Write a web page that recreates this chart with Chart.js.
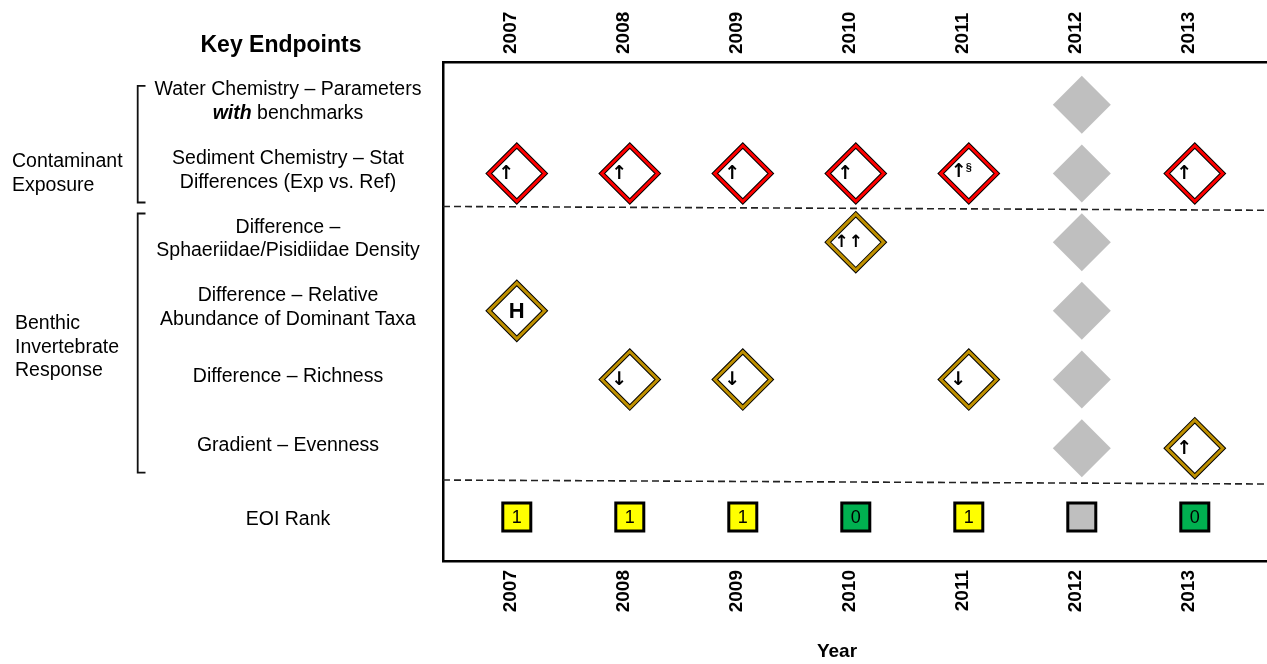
<!DOCTYPE html>
<html><head><meta charset="utf-8">
<script src="https://cdn.jsdelivr.net/npm/chart.js@4"></script>
<style>html,body{margin:0;padding:0;background:#fff;overflow:hidden}canvas{display:block}</style>
</head><body><canvas id="c" width="1267" height="664" style="width:1267px;height:664px"></canvas>
<script>
// ---------------- data ----------------
const years = [2007, 2008, 2009, 2010, 2011, 2012, 2013];
const endpointLabels = [
  ["Water Chemistry – Parameters", "*with* benchmarks"],
  ["Sediment Chemistry – Stat", "Differences (Exp vs. Ref)"],
  ["Difference –", "Sphaeriidae/Pisidiidae Density"],
  ["Difference – Relative", "Abundance of Dominant Taxa"],
  ["Difference – Richness"],
  ["Gradient – Evenness"],
  ["EOI Rank"]
];
const endpointRows = [1, 2, 3, 4, 5, 6, 7];
const groupLabels = [["Contaminant", "Exposure"], ["Benthic", "Invertebrate", "Response"]];
const groupLabelRows = [2, 4.53];
const groupBrackets = [[0.723, 2.422], [2.582, 6.354]];
const dividerRows = [[2.48, 2.535], [6.463, 6.521]];

// Contaminant exposure flags (red)
const exposureYears = [2007, 2008, 2009, 2010, 2011, 2013];
const exposureRows = [2, 2, 2, 2, 2, 2];
const exposureSymbols = ["↑", "↑", "↑", "↑", "↑§", "↑"];
// Benthic response flags (gold)
const responseYears = [2010, 2007, 2008, 2009, 2011, 2013];
const responseRows = [3, 4, 5, 5, 5, 6];
const responseSymbols = ["↑↑", "H", "↓", "↓", "↓", "↑"];
// Not assessed (grey)
const naYears = [2012, 2012, 2012, 2012, 2012, 2012];
const naRows = [1, 2, 3, 4, 5, 6];
// EOI rank per year (null = not ranked)
const eoiRank = [1, 1, 1, 0, 1, null, 0];
const eoiRow = 7;

// ---------------- styles ----------------
const F = "'Liberation Sans', Arial, sans-serif";
const AF = "'DejaVu Sans', sans-serif";
const X_MIN = 2006.347, X_MAX = 2013.639;
const Y_MIN = 0.3765, Y_MAX = 7.642;
const RED = '#FF0000', GOLD = '#BF9000', GREY = '#BFBFBF';
const rankColor = r => r === null ? GREY : (r === 0 ? '#00B050' : '#FFFF00');
const pts = (xs, ys) => xs.map((v, i) => ({x: v, y: ys[i]}));

function flagLayer(data, color, outer, order) {
  return {
    type: 'scatter', data, order,
    pointStyle: 'rectRot', pointRadius: 28, pointHoverRadius: 28,
    pointBackgroundColor: outer ? '#FFFFFF' : 'rgba(0,0,0,0)',
    pointBorderColor: outer ? '#000000' : color,
    pointBorderWidth: outer ? 5 : 3, pointHoverBorderWidth: outer ? 5 : 3
  };
}
function divider(r) {
  return {
    type: 'line', order: 20,
    data: [{x: X_MIN, y: r[0]}, {x: X_MAX, y: r[1]}],
    borderColor: '#222222', borderWidth: 1.6, borderDash: [7, 4],
    pointRadius: 0, fill: false
  };
}

const exposurePts = pts(exposureYears, exposureRows);
const responsePts = pts(responseYears, responseRows);

function drawSymbol(ctx, s, cx, cy) {
  ctx.fillStyle = '#000';
  ctx.textBaseline = 'middle';
  ctx.textAlign = 'center';
  if (s === 'H') {
    ctx.font = 'bold 22px ' + F;
    ctx.fillText('H', cx, cy + 1);
  } else if (s === '↑↑') {
    ctx.font = 'bold 17px ' + AF;
    ctx.fillText('↑↑', cx - 7, cy);
  } else if (s === '↑§') {
    ctx.font = 'bold 19px ' + AF;
    ctx.fillText('↑', cx - 10, cy - 1);
    ctx.font = 'bold 11px ' + F;
    ctx.fillText('§', cx, cy - 6);
  } else {
    ctx.font = 'bold 19px ' + AF;
    ctx.fillText(s, cx - 10.5, cy + 1);
  }
}

function drawRich(ctx, line, cx, cy, size) {
  const segs = line.split('*').map((t, i) => ({t, bi: i % 2 === 1})).filter(s => s.t.length);
  let total = 0;
  segs.forEach(s => { ctx.font = (s.bi ? 'italic bold ' : '') + size + 'px ' + F; s.w = ctx.measureText(s.t).width; total += s.w; });
  let xx = cx - total / 2;
  ctx.textAlign = 'left';
  segs.forEach(s => { ctx.font = (s.bi ? 'italic bold ' : '') + size + 'px ' + F; ctx.fillText(s.t, xx, cy); xx += s.w; });
}

const annotate = {
  id: 'annotate',
  afterDatasetsDraw(chart) {
    const {ctx, scales: {x, y}} = chart;
    ctx.save();
    exposurePts.forEach((p, i) => drawSymbol(ctx, exposureSymbols[i], x.getPixelForValue(p.x), y.getPixelForValue(p.y)));
    responsePts.forEach((p, i) => drawSymbol(ctx, responseSymbols[i], x.getPixelForValue(p.x), y.getPixelForValue(p.y)));
    ctx.font = '18px ' + F;
    ctx.textAlign = 'center'; ctx.textBaseline = 'middle'; ctx.fillStyle = '#000';
    years.forEach((yr, i) => {
      if (eoiRank[i] !== null) ctx.fillText(String(eoiRank[i]), x.getPixelForValue(yr), y.getPixelForValue(eoiRow) + 1);
    });
    ctx.restore();
  },
  afterDraw(chart) {
    const {ctx, scales: {x, y}} = chart;
    ctx.save();
    ctx.fillStyle = '#000';
    ctx.textBaseline = 'middle';
    const LH = 23.5, LABEL_X = 288, SIZE = 19.5;
    endpointLabels.forEach((lines, i) => {
      const py = y.getPixelForValue(endpointRows[i]) + (i === 6 ? 3 : -3);
      lines.forEach((ln, j) => drawRich(ctx, ln, LABEL_X, py + (j - (lines.length - 1) / 2) * LH, SIZE));
    });
    ctx.font = SIZE + 'px ' + F;
    ctx.textAlign = 'left';
    const gx = [12, 15];
    groupLabels.forEach((lines, i) => {
      const py = y.getPixelForValue(groupLabelRows[i]);
      lines.forEach((ln, j) => ctx.fillText(ln, gx[i], py + (j - (lines.length - 1) / 2) * 23.8));
    });
    // brackets
    ctx.strokeStyle = '#111'; ctx.lineWidth = 1.8;
    groupBrackets.forEach(b => {
      const t = y.getPixelForValue(b[0]), bt = y.getPixelForValue(b[1]);
      ctx.beginPath();
      ctx.moveTo(145.5, t); ctx.lineTo(137.7, t); ctx.lineTo(137.7, bt); ctx.lineTo(145.5, bt);
      ctx.stroke();
    });
    // headings
    ctx.textAlign = 'center';
    ctx.font = 'bold 23px ' + F;
    ctx.fillText('Key Endpoints', 281, 46);
    ctx.font = 'bold 19px ' + F;
    ctx.fillText('Year', 837, 652);
    ctx.restore();
  }
};

const yearTicks = s => { s.ticks = years.map(v => ({value: v})); };
const xAxisBase = (pos, pad, h, off) => ({
  type: 'linear', position: pos, min: X_MIN, max: X_MAX,
  afterBuildTicks: yearTicks,
  afterFit: s => { s.height = h; s.paddingLeft = 0; s.paddingRight = 0; },
  grid: {display: false, drawTicks: false},
  border: {display: true, color: '#000', width: 2.5},
  ticks: {autoSkip: false, minRotation: 90, maxRotation: 90, padding: pad, labelOffset: off,
    color: '#000', font: {family: F, size: 19, weight: 'bold'},
    callback: v => String(v)}
});

new Chart(document.getElementById('c'), {
  type: 'scatter',
  data: {
    datasets: [
      divider(dividerRows[0]),
      divider(dividerRows[1]),
      {type: 'scatter', order: 8, data: pts(naYears, naRows), pointStyle: 'rectRot',
        pointRadius: 29, pointHoverRadius: 29, pointBackgroundColor: GREY, pointBorderWidth: 0, pointHoverBorderWidth: 0},
      flagLayer(exposurePts, RED, true, 7),
      flagLayer(exposurePts, RED, false, 6),
      flagLayer(responsePts, GOLD, true, 5),
      flagLayer(responsePts, GOLD, false, 4),
      {type: 'scatter', order: 3, data: years.map(v => ({x: v, y: eoiRow})), pointStyle: 'rect',
        pointRadius: 19.8, pointHoverRadius: 19.8,
        pointBackgroundColor: eoiRank.map(rankColor), pointBorderColor: '#000',
        pointBorderWidth: 3, pointHoverBorderWidth: 3}
    ]
  },
  options: {
    responsive: false, devicePixelRatio: 1,
    animation: false, events: [],
    layout: {padding: 0, autoPadding: false},
    plugins: {legend: {display: false}, tooltip: {enabled: false}},
    scales: {
      x: xAxisBase('bottom', 9, 103, -6),
      x2: xAxisBase('top', 8, 62, 17),
      y: {
        type: 'linear', reverse: true, min: Y_MIN, max: Y_MAX,
        afterFit: s => { s.width = 443; s.paddingTop = 0; s.paddingBottom = 0; },
        grid: {display: false, drawTicks: false},
        border: {display: true, color: '#000', width: 2.5},
        ticks: {display: false}
      }
    }
  },
  plugins: [annotate]
});
</script>
</body></html>
